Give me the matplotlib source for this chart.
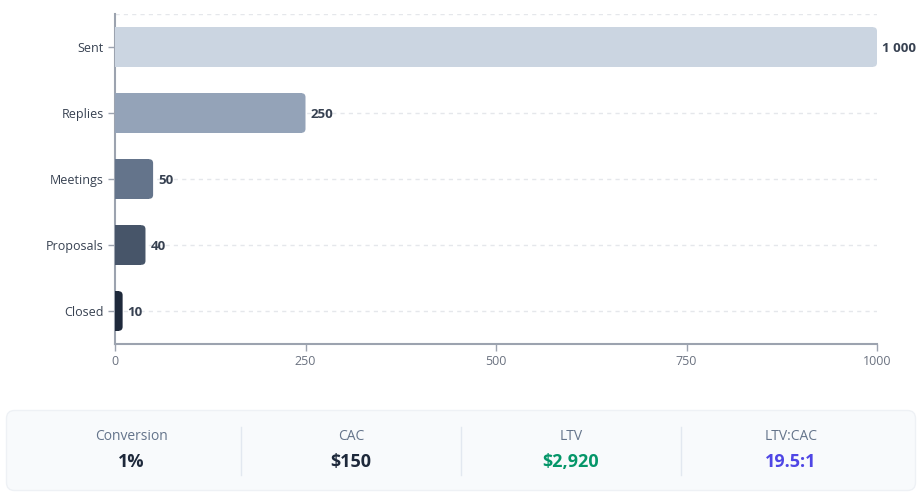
import matplotlib
matplotlib.use("Agg")
import matplotlib.pyplot as plt
from matplotlib.patches import FancyBboxPatch, Rectangle

plt.rcParams['font.family'] = ['Open Sans', 'DejaVu Sans']

# funnel data
stages = ["Sent", "Replies", "Meetings", "Proposals", "Closed"]
counts = [1000, 250, 50, 40, 10]
bar_colors = ["#cbd5e1", "#94a3b8", "#64748b", "#475569", "#1e293b"]

# summary metrics
metric_names = ["Conversion", "CAC", "LTV", "LTV:CAC"]
cac = 150
ltv = 2920
metric_values = [f"{counts[-1] / counts[0] * 100:.0f}%", f"${cac:,}", f"${ltv:,}", f"{ltv / cac:.1f}:1"]
metric_colors = ["#1e293b", "#1e293b", "#059669", "#4f46e5"]

W, H = 923, 500
fig = plt.figure(figsize=(W / 100, H / 100), dpi=100)
ax = fig.add_axes([115 / W, (H - 344) / H, 762 / W, 330 / H])

ax.set_xlim(0, 1000)
ax.set_ylim(4.5, -0.5)
bar_h = 0.6

# rounded right ends: rounding in px converted to data units
px_x = 1000 / 762
px_y = 5 / 330
r = 4 * px_x
for i, (v, c) in enumerate(zip(counts, bar_colors)):
    y0 = i - bar_h / 2
    patch = FancyBboxPatch((0, y0), v, bar_h, boxstyle=f"round,pad=0,rounding_size={r}",
                           mutation_aspect=px_y / px_x, fc=c, ec="none", zorder=3)
    ax.add_patch(patch)
    ax.add_patch(Rectangle((0, y0), max(v - r, 0), bar_h, fc=c, ec="none", zorder=3))
    ax.text(v + 5 * px_x, i, f"{v:,}".replace(",", " "), va="center_baseline", ha="left",
            fontsize=9.5, fontweight="bold", color="#374151", zorder=4)

# dashed grid
for yy in [-0.5] + list(range(len(stages))):
    ax.axhline(yy, color="#e5e7eb", lw=1, ls=(0, (3, 3)), zorder=1)

ax.set_yticks(range(len(stages)))
ax.set_yticklabels(stages, fontsize=9, color="#374151")
ax.set_xticks([0, 250, 500, 750, 1000])
ax.set_xticklabels(["0", "250", "500", "750", "1000"], fontsize=9, color="#6b7280")
ax.tick_params(axis="both", length=5, width=1, color="#9ca3af", pad=3)
for s in ["top", "right"]:
    ax.spines[s].set_visible(False)
for s in ["left", "bottom"]:
    ax.spines[s].set_color("#9ca3af")
    ax.spines[s].set_linewidth(1.5)

# metrics panel
pax = fig.add_axes([6 / W, (H - 491) / H, 910 / W, 81 / H])
pax.set_xlim(0, 910)
pax.set_ylim(81, 0)
pax.axis("off")
pax.add_patch(FancyBboxPatch((0.5, 0.5), 909, 80, boxstyle="round,pad=0,rounding_size=8",
                             fc="#f8fafc", ec="#eef1f5", lw=1, clip_on=False))
pad = 15
col_w = (910 - 2 * pad) / 4
for k, (name, val, col) in enumerate(zip(metric_names, metric_values, metric_colors)):
    cx = pad + col_w * k + col_w / 2
    pax.text(cx, 27, name, ha="center", va="center", fontsize=10, color="#64748b")
    pax.text(cx, 52, val, ha="center", va="center", fontsize=13, fontweight="bold", color=col)
    if k > 0:
        xd = pad + col_w * k
        pax.plot([xd, xd], [17, 65], color="#e2e8f0", lw=1)

fig.savefig("out.png", dpi=100)
